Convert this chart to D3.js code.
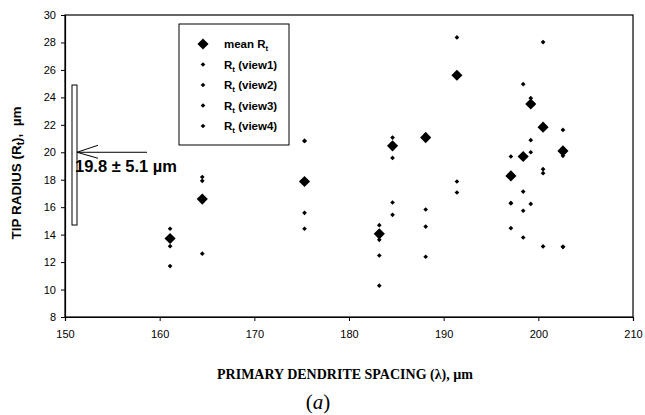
<!DOCTYPE html>
<html>
<head>
<meta charset="utf-8">
<script src="https://cdn.jsdelivr.net/npm/d3@7"></script>
<style>
  body { margin: 0; background: #fff; }
  svg { display: block; }
</style>
</head>
<body>
<svg id="chart" width="645" height="415"></svg>
<script>
// values
const spacing = [161.1, 164.5, 175.3, 183.2, 184.6, 188.1, 191.4, 197.1, 198.4, 199.2, 200.5, 202.6];
const meanR   = [13.72, 16.59, 17.87, 14.06, 20.47, 21.07, 25.61, 18.28, 19.69, 23.52, 21.83, 20.1];
const view1   = [14.43, 18.2, 20.83, 14.69, 21.07, 21.3, 28.37, 19.69, 24.96, 23.94, 28.03, 21.63];
const view2   = [13.16, 17.92, 20.83, 13.62, 19.59, 15.83, 17.87, 16.29, 17.14, 20.88, 18.77, 19.74];
const view3   = [11.71, 12.61, 15.59, 12.48, 16.34, 14.59, 17.07, 16.29, 15.74, 20.0, 18.48, 13.11];
const view4   = [null, null, 14.43, 10.28, 15.44, 12.39, null, 14.47, 13.79, 16.24, 13.14, 13.11];
const xTicks = [150, 160, 170, 180, 190, 200, 210];
const yTicks = [8, 10, 12, 14, 16, 18, 20, 22, 24, 26, 28, 30];
const legendLabels = ["mean", "(view1)", "(view2)", "(view3)", "(view4)"];
const bandMean = 19.8, bandSd = 5.1;

const margin = { top: 15, right: 12, bottom: 98, left: 65 };
const width = 645 - margin.left - margin.right;
const height = 415 - margin.top - margin.bottom;

const svg = d3.select("#chart");
const g = svg.append("g").attr("transform", `translate(${margin.left},${margin.top})`);

const x = d3.scaleLinear().domain([150, 210]).range([0, width]);
const y = d3.scaleLinear().domain([8, 30]).range([height, 0]);

const sans = "'Liberation Sans', Arial, sans-serif";
const serif = "'Liberation Serif', 'Times New Roman', serif";

// frame
g.append("rect")
  .attr("width", width).attr("height", height)
  .attr("fill", "none").attr("stroke", "#000").attr("stroke-width", 1.2);

const xAxis = g.append("g")
  .attr("transform", `translate(0,${height})`)
  .call(d3.axisBottom(x).tickValues(xTicks).tickSize(4).tickFormat(d3.format("d")));
const yAxis = g.append("g")
  .call(d3.axisLeft(y).tickValues(yTicks).tickSize(4).tickFormat(d3.format("d")));

[xAxis, yAxis].forEach(a => {
  a.select(".domain").attr("stroke-width", 1.2);
  a.selectAll("text").attr("font-family", sans).attr("font-size", 11).attr("fill", "#000");
});
xAxis.selectAll("text").attr("dy", "1.3em");
yAxis.selectAll("text").attr("x", -9);

// excel-style diamonds: squares turned 45 degrees
const bigMark = d3.symbol().type(d3.symbolSquare).size(62)();
const smallMark = d3.symbol().type(d3.symbolSquare).size(11)();

const views = [view1, view2, view3, view4];
const pts = [];
views.forEach(v => v.forEach((r, i) => { if (r != null) pts.push({ x: spacing[i], r }); }));

g.selectAll(".view")
  .data(pts)
  .join("path")
  .attr("class", "view")
  .attr("d", smallMark)
  .attr("transform", d => `translate(${x(d.x)},${y(d.r)}) rotate(45)`)
  .attr("fill", "#000");

g.selectAll(".mean")
  .data(spacing.map((s, i) => ({ x: s, r: meanR[i] })))
  .join("path")
  .attr("class", "mean")
  .attr("d", bigMark)
  .attr("transform", d => `translate(${x(d.x)},${y(d.r)}) rotate(45)`)
  .attr("fill", "#000");

// mean +/- sd bar with arrow
const bx = x(150) + 7;
g.append("rect")
  .attr("x", bx).attr("y", y(bandMean + bandSd))
  .attr("width", 5).attr("height", y(bandMean - bandSd) - y(bandMean + bandSd))
  .attr("fill", "#fff").attr("stroke", "#000").attr("stroke-width", 1);
const ay = y(20);
g.append("path")
  .attr("d", `M${bx + 5},${ay}H${x(150) + 82}M${bx + 5},${ay}L${bx + 26},${ay - 7}M${bx + 5},${ay}L${bx + 26},${ay + 6}`)
  .attr("fill", "none").attr("stroke", "#000").attr("stroke-width", 1);
g.append("text")
  .attr("x", bx + 3).attr("y", ay + 20)
  .attr("font-family", sans).attr("font-size", 16.5).attr("font-weight", "bold")
  .text(`${bandMean} ± ${bandSd} µm`);

// legend
const lg = svg.append("g").attr("transform", "translate(179,24)");
lg.append("rect").attr("width", 110).attr("height", 121)
  .attr("fill", "#fff").attr("stroke", "#000").attr("stroke-width", 1);
legendLabels.forEach((lab, i) => {
  const ry = 20 + i * 20.5;
  lg.append("path")
    .attr("d", i === 0 ? bigMark : smallMark)
    .attr("transform", `translate(24,${ry}) rotate(45)`)
    .attr("fill", "#000");
  const t = lg.append("text")
    .attr("x", 45).attr("y", ry + 4)
    .attr("font-family", sans).attr("font-size", 11.5).attr("font-weight", "bold");
  t.append("tspan").text(i === 0 ? "mean R" : "R");
  t.append("tspan").attr("dy", 3).attr("font-size", 8).text("t");
  if (i > 0) t.append("tspan").attr("dy", -3).text(" " + lab);
});

// axis titles
const yt = svg.append("text")
  .attr("transform", `translate(21,173) rotate(-90)`)
  .attr("text-anchor", "middle")
  .attr("font-family", sans).attr("font-size", 13.5).attr("font-weight", "bold");
yt.append("tspan").text("TIP RADIUS (R");
yt.append("tspan").attr("dy", 3).attr("font-size", 10).text("t");
yt.append("tspan").attr("dy", -3).attr("xml:space", "preserve").text("),  µm");

svg.append("text")
  .attr("x", 345).attr("y", 379)
  .attr("text-anchor", "middle")
  .attr("font-family", serif).attr("font-size", 14).attr("font-weight", "bold")
  .text("PRIMARY DENDRITE SPACING (λ), µm");

const cap = svg.append("text")
  .attr("x", 318).attr("y", 409)
  .attr("text-anchor", "middle")
  .attr("font-family", serif).attr("font-size", 21);
cap.append("tspan").text("(");
cap.append("tspan").attr("font-style", "italic").text("a");
cap.append("tspan").text(")");
</script>
</body>
</html>
